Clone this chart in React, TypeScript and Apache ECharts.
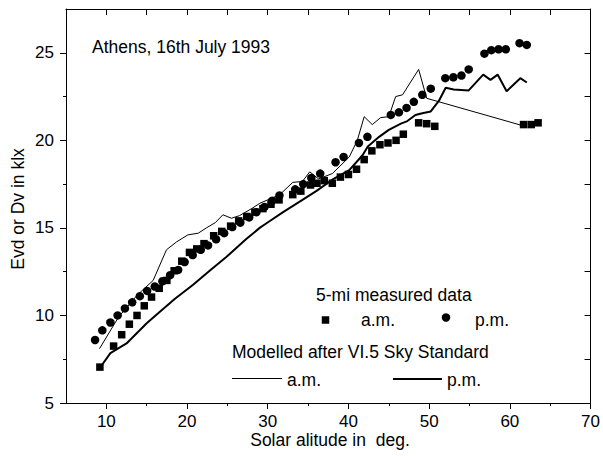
import React, { useEffect, useRef } from "react";
import * as echarts from "echarts";

// a.m. measured (squares): [solar altitude, klx]
const amMeasured: number[][] = [
  [9.2, 7.05], [10.9, 8.25], [11.9, 8.9], [12.85, 9.5], [13.8, 10.0], [14.7, 10.55],
  [15.6, 11.05], [16.55, 11.55], [17.5, 12.0], [18.4, 12.55], [19.35, 13.1], [20.3, 13.6],
  [21.2, 13.8], [22.1, 14.1], [23.3, 14.55], [24.3, 14.8], [25.4, 15.1], [26.4, 15.4],
  [27.4, 15.65], [28.4, 15.9], [29.4, 16.1], [30.4, 16.35], [31.4, 16.6], [33.1, 16.9],
  [34.1, 17.1], [35.3, 17.45], [36.1, 17.55], [37.0, 17.7], [38.0, 17.55], [39.0, 17.9],
  [40.0, 18.05], [41.0, 18.35], [41.95, 18.9], [42.9, 19.4], [43.9, 19.75], [44.9, 19.85],
  [45.9, 20.0], [46.8, 20.35], [48.7, 21.0], [49.7, 20.95], [50.7, 20.8],
  [61.7, 20.9], [62.65, 20.9], [63.5, 21.0],
];

// p.m. measured (circles)
const pmMeasured: number[][] = [
  [8.6, 8.6], [9.5, 9.15], [10.5, 9.6], [11.4, 10.0], [12.3, 10.4], [13.2, 10.75],
  [14.15, 11.1], [15.05, 11.4], [16.0, 11.65], [16.95, 11.95], [17.9, 12.3], [18.9, 12.6],
  [19.7, 13.05], [20.7, 13.45], [21.7, 13.75], [22.6, 14.0], [23.6, 14.35], [24.6, 14.7],
  [25.6, 15.05], [26.6, 15.3], [27.7, 15.6], [28.6, 15.9], [29.6, 16.2], [30.55, 16.55],
  [31.45, 16.85], [33.4, 17.2], [34.4, 17.5], [35.4, 17.85], [36.5, 18.1], [38.4, 18.75],
  [39.4, 19.05], [41.3, 19.85], [42.35, 20.2], [45.25, 21.45], [46.25, 21.6], [47.2, 21.85],
  [48.1, 22.2], [49.15, 22.6], [50.2, 22.95], [52.0, 23.55], [53.0, 23.6], [54.0, 23.7],
  [54.9, 24.05], [56.85, 24.95], [57.7, 25.15], [58.6, 25.2], [59.5, 25.2], [61.2, 25.55],
  [62.1, 25.45],
];

// Modelled a.m. (thin line)
const amModel: number[][] = [
  [9.15, 8.1], [11.5, 9.9], [13.8, 11.15], [15.8, 12.0], [17.45, 13.75], [18.7, 14.2],
  [20.1, 14.6], [21.4, 14.7], [22.4, 15.0], [23.5, 15.3], [24.45, 15.75], [25.5, 15.55],
  [26.5, 15.7], [28.0, 16.1], [29.0, 16.4], [30.5, 16.7], [31.5, 16.9], [33.1, 17.6],
  [34.3, 17.65], [35.2, 18.2], [36.3, 17.8], [38.0, 18.1], [40.1, 19.05], [41.1, 20.0],
  [41.95, 21.35], [42.95, 20.9], [44.0, 21.3], [45.0, 21.35], [45.85, 22.5], [46.7, 22.6],
  [48.7, 24.05], [49.7, 22.4], [61.5, 20.85],
];

// Modelled p.m. (thick line)
const pmModel: number[][] = [
  [9.15, 6.97], [10.5, 7.85], [12.5, 8.4], [15.0, 9.55], [16.6, 10.2], [18.5, 10.95],
  [20.75, 11.75], [22.8, 12.55], [24.9, 13.35], [27.3, 14.35], [29.0, 15.0], [29.8, 15.25],
  [31.9, 15.9], [34.3, 16.6], [36.0, 17.1], [38.0, 17.75], [40.1, 18.3], [41.75, 19.15],
  [42.4, 19.65], [43.8, 20.2], [45.0, 20.6], [46.5, 20.95], [47.3, 21.1], [48.3, 21.45],
  [49.15, 21.55], [50.2, 21.65], [51.2, 22.25], [52.05, 23.0], [53.05, 22.9], [54.9, 22.85],
  [56.7, 23.75], [57.6, 23.45], [58.5, 23.75], [59.6, 22.8], [61.3, 23.55], [62.1, 23.3],
];

const xLabelTicks = [10, 20, 30, 40, 50, 60, 70];
const xMinorTicks = [15, 25, 35, 45, 55, 65];
const xTopTicks = [10, 15, 20, 25, 30, 35, 40, 45, 50, 55, 60, 65];
const yLabelTicks = [5, 10, 15, 20, 25];
const yMinorTicks = [7.5, 12.5, 17.5, 22.5];
const yRightTicks = [7.5, 10, 12.5, 15, 17.5, 20, 22.5, 25];

const FONT = '"Liberation Sans", Arial, sans-serif';
const BLACK = "#000";

export default function App() {
  const ref = useRef<HTMLDivElement>(null);
  useEffect(() => {
    if (!ref.current) return;
    const chart = echarts.init(ref.current, undefined, { renderer: "svg" });
    const line = { lineStyle: { color: BLACK, width: 1 } };
    const hiddenAxis = {
      axisLine: { show: false },
      axisLabel: { show: false },
      splitLine: { show: false },
    };
    chart.setOption({
      animation: false,
      backgroundColor: "#fff",
      grid: { left: 66, right: 11, top: 9, bottom: 53, containLabel: false },
      xAxis: [
        {
          type: "value", position: "bottom", min: 5, max: 70, interval: 5,
          axisLine: { show: true, onZero: false, ...line },
          axisTick: { show: true, inside: false, length: 6, customValues: xLabelTicks, ...line },
          axisLabel: { customValues: xLabelTicks, fontSize: 17, fontFamily: FONT, color: BLACK, margin: 10 },
          splitLine: { show: false },
        },
        {
          type: "value", position: "bottom", min: 5, max: 70, interval: 5, ...hiddenAxis,
          axisTick: { show: true, inside: false, length: 3, customValues: xMinorTicks, ...line },
        },
        {
          type: "value", position: "top", min: 5, max: 70, interval: 5,
          axisLine: { show: true, onZero: false, ...line },
          axisTick: { show: true, inside: true, length: 6, customValues: xTopTicks, ...line },
          axisLabel: { show: false },
          splitLine: { show: false },
        },
      ],
      yAxis: [
        {
          type: "value", position: "left", min: 5, max: 27.5, interval: 2.5,
          axisLine: { show: true, onZero: false, ...line },
          axisTick: { show: true, inside: false, length: 6, customValues: yLabelTicks, ...line },
          axisLabel: { customValues: yLabelTicks, fontSize: 17, fontFamily: FONT, color: BLACK, margin: 12 },
          splitLine: { show: false },
        },
        {
          type: "value", position: "left", min: 5, max: 27.5, interval: 2.5, ...hiddenAxis,
          axisTick: { show: true, inside: false, length: 3, customValues: yMinorTicks, ...line },
        },
        {
          type: "value", position: "right", min: 5, max: 27.5, interval: 2.5,
          axisLine: { show: true, onZero: false, ...line },
          axisTick: { show: true, inside: true, length: 6, customValues: yRightTicks, ...line },
          axisLabel: { show: false },
          splitLine: { show: false },
        },
      ],
      series: [
        {
          name: "Modelled a.m.", type: "line", data: amModel, symbol: "none",
          lineStyle: { color: BLACK, width: 1 }, z: 2,
        },
        {
          name: "Modelled p.m.", type: "line", data: pmModel, symbol: "none",
          lineStyle: { color: BLACK, width: 2 }, z: 2,
        },
        {
          name: "a.m.", type: "scatter", data: amMeasured, symbol: "rect", symbolSize: 7.5,
          itemStyle: { color: BLACK, opacity: 1 }, z: 3,
        },
        {
          name: "p.m.", type: "scatter", data: pmMeasured, symbol: "circle", symbolSize: 8.5,
          itemStyle: { color: BLACK, opacity: 1 }, z: 3,
        },
      ],
      graphic: [
        {
          type: "text", x: 92, y: 47,
          style: { text: "Athens, 16th July 1993", fontSize: 17.5, fontFamily: FONT, fill: BLACK, align: "left", verticalAlign: "middle" },
        },
        {
          type: "text", x: 18, y: 209, rotation: Math.PI / 2,
          style: { text: "Evd or Dv in klx", fontSize: 17.5, fontFamily: FONT, fill: BLACK, align: "center", verticalAlign: "middle" },
        },
        {
          type: "text", x: 330, y: 440,
          style: { text: "Solar alitude in  deg.", fontSize: 17.5, fontFamily: FONT, fill: BLACK, align: "center", verticalAlign: "middle" },
        },
        {
          type: "text", x: 316, y: 295,
          style: { text: "5-mi measured data", fontSize: 17.5, fontFamily: FONT, fill: BLACK, align: "left", verticalAlign: "middle" },
        },
        { type: "rect", shape: { x: 321.75, y: 316.25, width: 7.5, height: 7.5 }, style: { fill: BLACK } },
        {
          type: "text", x: 361, y: 320,
          style: { text: "a.m.", fontSize: 17.5, fontFamily: FONT, fill: BLACK, align: "left", verticalAlign: "middle" },
        },
        { type: "circle", shape: { cx: 446, cy: 317.5, r: 4.25 }, style: { fill: BLACK } },
        {
          type: "text", x: 475, y: 320,
          style: { text: "p.m.", fontSize: 17.5, fontFamily: FONT, fill: BLACK, align: "left", verticalAlign: "middle" },
        },
        {
          type: "text", x: 232, y: 352,
          style: { text: "Modelled after VI.5 Sky Standard", fontSize: 17.5, fontFamily: FONT, fill: BLACK, align: "left", verticalAlign: "middle" },
        },
        { type: "line", shape: { x1: 232, y1: 378.5, x2: 282, y2: 378.5 }, style: { stroke: BLACK, lineWidth: 1 } },
        {
          type: "text", x: 287, y: 380,
          style: { text: "a.m.", fontSize: 17.5, fontFamily: FONT, fill: BLACK, align: "left", verticalAlign: "middle" },
        },
        { type: "line", shape: { x1: 393, y1: 379, x2: 442, y2: 379 }, style: { stroke: BLACK, lineWidth: 2 } },
        {
          type: "text", x: 447, y: 380,
          style: { text: "p.m.", fontSize: 17.5, fontFamily: FONT, fill: BLACK, align: "left", verticalAlign: "middle" },
        },
      ],
    });
    return () => chart.dispose();
  }, []);
  return (
    <div
      ref={ref}
      style={{ position: "fixed", left: 0, top: 0, width: 603, height: 456, background: "#fff" }}
    />
  );
}
